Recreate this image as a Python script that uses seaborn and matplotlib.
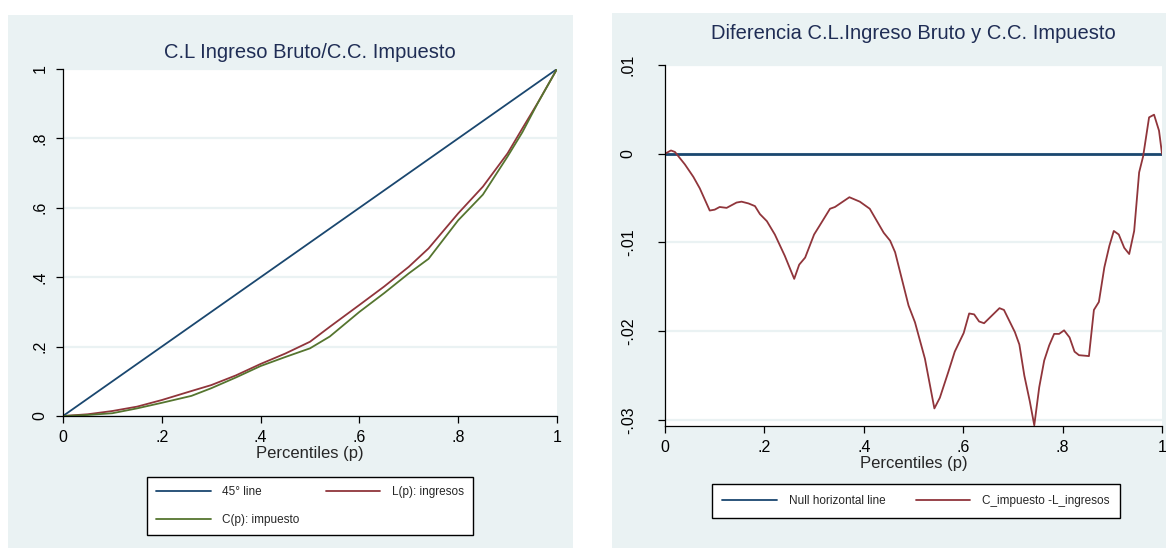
import matplotlib
matplotlib.use("Agg")
import numpy as np
import pandas as pd
import matplotlib.pyplot as plt
import seaborn as sns
from matplotlib import font_manager
from matplotlib.patches import Rectangle
from matplotlib.lines import Line2D

# ---------------- data ----------------
p_lorenz = [0.0, 0.05, 0.10, 0.15, 0.20, 0.26, 0.30, 0.35, 0.40, 0.45, 0.50, 0.54,
            0.60, 0.65, 0.70, 0.74, 0.80, 0.85, 0.90, 0.93, 0.96, 1.0]
L_ingresos = [0.0, 0.005, 0.0144, 0.027, 0.046, 0.072, 0.089, 0.117, 0.150, 0.180, 0.214, 0.257,
              0.320, 0.373, 0.430, 0.483, 0.584, 0.661, 0.757, 0.829, 0.900, 1.0]
C_impuesto = [0.0, 0.003, 0.008, 0.022, 0.038, 0.058, 0.080, 0.111, 0.144, 0.170, 0.195, 0.229,
              0.300, 0.354, 0.411, 0.453, 0.564, 0.638, 0.748, 0.818, 0.899, 1.0]

p_line45 = [0.0, 1.0]
v_line45 = [0.0, 1.0]

p_diff = [0.0, 0.012, 0.02, 0.04, 0.057, 0.07, 0.09, 0.10, 0.11, 0.124, 0.144, 0.154, 0.168,
          0.181, 0.191, 0.205, 0.221, 0.241, 0.26, 0.27, 0.282, 0.30, 0.31, 0.332, 0.342,
          0.371, 0.392, 0.412, 0.44, 0.453, 0.463, 0.49, 0.503, 0.523, 0.542, 0.553, 0.57,
          0.583, 0.601, 0.612, 0.622, 0.632, 0.642, 0.673, 0.682, 0.704, 0.713, 0.723,
          0.734, 0.743, 0.753, 0.763, 0.773, 0.783, 0.793, 0.803, 0.814, 0.824, 0.833,
          0.853, 0.863, 0.873, 0.884, 0.894, 0.903, 0.913, 0.924, 0.934, 0.944, 0.954,
          0.962, 0.974, 0.984, 0.994, 1.0]
diff_CL = [0.0, 0.00037, 0.0002, -0.0012, -0.0026, -0.0039, -0.0064, -0.0063, -0.0060,
           -0.0061, -0.0055, -0.0054, -0.0056, -0.0059, -0.0068, -0.0076, -0.0091, -0.0115,
           -0.0141, -0.0125, -0.0117, -0.0091, -0.0082, -0.0062, -0.0060, -0.0049, -0.0054,
           -0.0062, -0.0089, -0.0098, -0.0111, -0.0171, -0.0190, -0.0231, -0.0287, -0.0275,
           -0.0246, -0.0223, -0.0202, -0.0180, -0.0181, -0.0189, -0.0191, -0.0174, -0.0176,
           -0.0201, -0.0215, -0.0250, -0.0279, -0.0306, -0.0263, -0.0233, -0.0216, -0.0203,
           -0.0203, -0.0199, -0.0207, -0.0223, -0.0227, -0.0228, -0.0176, -0.0167, -0.0128,
           -0.0104, -0.0087, -0.0091, -0.0106, -0.0113, -0.0087, -0.0021, -0.0003, 0.0041,
           0.0044, 0.0026, 0.0]
p_null = [0.0, 1.0]
v_null = [0.0, 0.0]

left_ticks = [0, 0.2, 0.4, 0.6, 0.8, 1.0]
left_ticklabels = ["0", ".2", ".4", ".6", ".8", "1"]
x_ticklabels_l = ["0", ".2", ".4", ".6", ".8", "1"]
right_ticks = [-0.03, -0.02, -0.01, 0.0, 0.01]
right_ticklabels = ["-.03", "-.02", "-.01", "0", ".01"]

# ---------------- style ----------------
sns.set_theme(style="white")
names = {f.name for f in font_manager.fontManager.ttflist}
fam = "Liberation Sans Narrow" if "Liberation Sans Narrow" in names else "Liberation Sans"
plt.rcParams["font.family"] = [fam, "DejaVu Sans"]

NAVY = "#1A476F"
MAROON = "#90353B"
GREEN = "#55752F"
BG = "#EAF2F3"
TITLE = "#1F2D55"

fig = plt.figure(figsize=(11.66, 5.52), dpi=100)
fig.patch.set_facecolor("white")
W, H = 1166, 552
def frect(x0, y0, x1, y1):
    return Rectangle((x0 / W, 1 - y1 / H), (x1 - x0) / W, (y1 - y0) / H,
                     transform=fig.transFigure, facecolor=BG, edgecolor="none", zorder=-10)
fig.patches.append(frect(8, 15, 573, 548))
fig.patches.append(frect(612, 13, 1166, 548))

def ax_rect(x0, y0, x1, y1):
    return [x0 / W, 1 - y1 / H, (x1 - x0) / W, (y1 - y0) / H]

axL = fig.add_axes(ax_rect(63, 69, 557, 416))
axR = fig.add_axes(ax_rect(665, 65, 1162, 426))

def style_axes(ax):
    ax.set_facecolor("white")
    for s in ["top", "right"]:
        ax.spines[s].set_visible(False)
    for s in ["left", "bottom"]:
        ax.spines[s].set_color("black")
        ax.spines[s].set_linewidth(0.9)
    ax.tick_params(axis="both", which="major", direction="out", length=5, width=0.9,
                   color="black", labelsize=11.5, labelcolor="black", bottom=True, left=True)
    ax.yaxis.grid(True, color=BG, linewidth=1.6)
    ax.xaxis.grid(False)
    ax.set_axisbelow(True)

# ---------------- left panel ----------------
dfL = pd.DataFrame({"p": p_lorenz, "L": L_ingresos, "C": C_impuesto})
df45 = pd.DataFrame({"p": p_line45, "v": v_line45})
sns.lineplot(data=df45, x="p", y="v", ax=axL, color=NAVY, linewidth=1.3)
sns.lineplot(data=dfL, x="p", y="L", ax=axL, color=MAROON, linewidth=1.3)
sns.lineplot(data=dfL, x="p", y="C", ax=axL, color=GREEN, linewidth=1.3)
style_axes(axL)
axL.set_xlim(0, 1)
axL.set_ylim(0, 1)
axL.set_xticks(left_ticks)
axL.set_xticklabels(x_ticklabels_l)
axL.set_yticks(left_ticks)
axL.set_yticklabels(left_ticklabels, rotation=90, va="center")
axL.tick_params(axis="y", pad=6)
axL.tick_params(axis="x", pad=5)
axL.set_xlabel("Percentiles (p)", fontsize=12, labelpad=1)
axL.set_ylabel("")
axL.set_title("C.L Ingreso Bruto/C.C. Impuesto", fontsize=14.5, color=TITLE, pad=8)

hL = [Line2D([], [], color=NAVY, lw=1.3), Line2D([], [], color=GREEN, lw=1.3),
      Line2D([], [], color=MAROON, lw=1.3)]
legL = fig.legend(hL, ["45° line", "C(p): impuesto", "L(p): ingresos"], ncol=2,
                  loc="center", bbox_to_anchor=(310 / W, 1 - 506 / H), fontsize=8.5,
                  frameon=True, fancybox=False, edgecolor="black", facecolor="white",
                  framealpha=1, handlelength=4.6, handletextpad=1.0, columnspacing=2.2,
                  labelspacing=1.3, borderpad=0.8)
legL.get_frame().set_linewidth(1.0)

# ---------------- right panel ----------------
dfD = pd.DataFrame({"p": p_diff, "d": diff_CL})
dfN = pd.DataFrame({"p": p_null, "v": v_null})
sns.lineplot(data=dfN, x="p", y="v", ax=axR, color=NAVY, linewidth=2.0)
sns.lineplot(data=dfD, x="p", y="d", ax=axR, color=MAROON, linewidth=1.3)
style_axes(axR)
axR.set_xlim(0, 1)
axR.set_ylim(-0.03068, 0.01)
axR.set_xticks(left_ticks)
axR.set_xticklabels(x_ticklabels_l)
axR.set_yticks(right_ticks)
axR.set_yticklabels(right_ticklabels, rotation=90, va="center")
axR.tick_params(axis="y", pad=16)
axR.tick_params(axis="x", pad=5)
axR.set_xlabel("Percentiles (p)", fontsize=12, labelpad=1)
axR.set_ylabel("")
axR.set_title("Diferencia C.L.Ingreso Bruto y C.C. Impuesto", fontsize=14.5, color=TITLE, pad=19)

hR = [Line2D([], [], color=NAVY, lw=1.3), Line2D([], [], color=MAROON, lw=1.3)]
legR = fig.legend(hR, ["Null horizontal line", "C_impuesto -L_ingresos"], ncol=2,
                  loc="center", bbox_to_anchor=(916 / W, 1 - 501 / H), fontsize=8.5,
                  frameon=True, fancybox=False, edgecolor="black", facecolor="white",
                  framealpha=1, handlelength=4.6, handletextpad=1.0, columnspacing=2.6,
                  borderpad=0.9)
legR.get_frame().set_linewidth(1.0)

fig.savefig("out.png", dpi=100, facecolor="white")
